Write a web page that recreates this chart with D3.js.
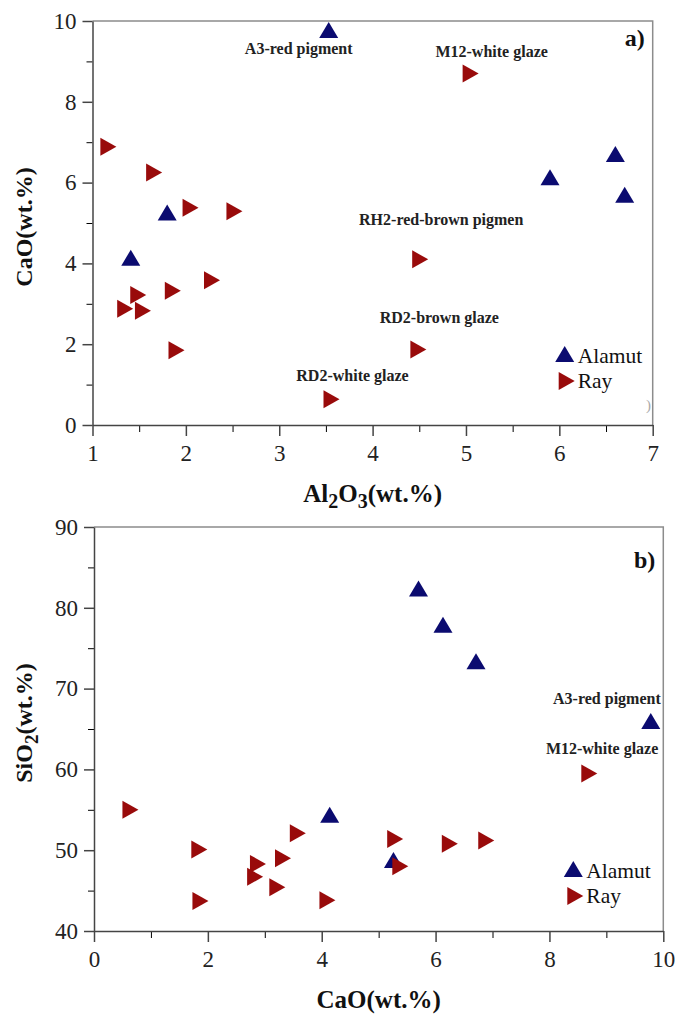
<!DOCTYPE html>
<html>
<head>
<meta charset="utf-8">
<script src="https://cdn.jsdelivr.net/npm/d3@7"></script>
<style>
  body { margin: 0; background: #fff; }
  text { font-family: "Liberation Serif", "Times New Roman", serif; }
</style>
</head>
<body>
<svg id="chart" width="678" height="1014"></svg>
<script>
// Alamut samples (blue triangles)
const alamutAl2O3 = [3.53, 1.80, 1.41, 5.90, 6.60, 6.70];
const alamutCaO   = [9.78, 5.26, 4.14, 6.13, 6.71, 5.70];
const alamutSiO2  = [66.0, 48.8, 54.4, 77.9, 73.4, 82.4];

// Ray samples (red right-pointing triangles)
const rayAl2O3 = [1.17, 1.66, 2.05, 2.52, 5.05, 2.28, 1.86, 1.49, 1.35, 1.54, 1.90, 3.56, 4.51, 4.49];
const rayCaO   = [6.89, 6.25, 5.38, 5.29, 8.70, 3.58, 3.32, 3.22, 2.88, 2.83, 1.85, 0.64, 4.10, 1.87];
const raySiO2  = [51.2, 50.8, 48.0, 51.4, 59.5, 52.1, 49.0, 45.4, 48.3, 46.7, 50.1, 55.0, 43.8, 43.7];

// labelled samples: [series, index, text]
const labelsA = [["alamut", 0, "A3-red pigment"], ["ray", 4, "M12-white glaze"],
                 ["ray", 12, "RH2-red-brown pigmen"], ["ray", 13, "RD2-brown glaze"],
                 ["ray", 11, "RD2-white glaze"]];
const labelsB = [["alamut", 0, "A3-red pigment"], ["ray", 4, "M12-white glaze"]];

const ticksAx = [1, 2, 3, 4, 5, 6, 7], minorAx = [1.5, 2.5, 3.5, 4.5, 5.5, 6.5];
const ticksAy = [0, 2, 4, 6, 8, 10], minorAy = [1, 3, 5, 7, 9];
const ticksBx = [0, 2, 4, 6, 8, 10], minorBx = [1, 3, 5, 7, 9];
const ticksBy = [40, 50, 60, 70, 80, 90], minorBy = [45, 55, 65, 75, 85];

const BLUE = "#0b0b70", RED = "#990b0b";
const svg = d3.select("#chart");

const upTri = "M0,-8L9.5,8L-9.5,8Z";
const rightTri = "M-8,-9L8,0L-8,9Z";

function drawPanel(p) {
    const g = svg.append("g");
    const x = d3.scaleLinear().domain(p.xDomain).range([p.left, p.right]);
    const y = d3.scaleLinear().domain(p.yDomain).range([p.bottom, p.top]);

    // light frame on top and right
    g.append("path")
        .attr("d", `M${p.left},${p.top}H${p.right}V${p.bottom}`)
        .attr("fill", "none")
        .attr("stroke", "#8c8c8c")
        .attr("stroke-width", 1.5);

    // minor ticks
    g.append("g")
        .attr("transform", `translate(0,${p.bottom})`)
        .call(d3.axisBottom(x).tickValues(p.xMinor).tickSize(7).tickFormat(""))
        .call(s => s.select(".domain").remove());
    g.append("g")
        .attr("transform", `translate(${p.left},0)`)
        .call(d3.axisLeft(y).tickValues(p.yMinor).tickSize(6).tickFormat(""))
        .call(s => s.select(".domain").remove());

    const xAxis = g.append("g")
        .attr("transform", `translate(0,${p.bottom})`)
        .call(d3.axisBottom(x).tickValues(p.xTicks).tickFormat(d3.format("d"))
            .tickSize(11).tickPadding(9).tickSizeOuter(0));
    const yAxis = g.append("g")
        .attr("transform", `translate(${p.left},0)`)
        .call(d3.axisLeft(y).tickValues(p.yTicks).tickFormat(d3.format("d"))
            .tickSize(10).tickPadding(6).tickSizeOuter(0));

    [xAxis, yAxis].forEach(a => {
        a.attr("font-family", null);
        a.selectAll(".domain, line").attr("stroke", "#444").attr("stroke-width", 1.5);
        a.selectAll("text")
            .style("font-family", '"Liberation Serif", serif')
            .style("font-size", "23px")
            .attr("fill", "#222");
    });

    // data (Ray drawn over Alamut where they overlap)
    g.append("g").selectAll("path")
        .data(p.alamut)
        .join("path")
        .attr("d", upTri)
        .attr("fill", BLUE)
        .attr("transform", d => `translate(${x(d[0])},${y(d[1])})`);
    g.append("g").selectAll("path")
        .data(p.ray)
        .join("path")
        .attr("d", rightTri)
        .attr("fill", RED)
        .attr("transform", d => `translate(${x(d[0])},${y(d[1])})`);

    // sample labels
    g.append("g").selectAll("text")
        .data(p.labels)
        .join("text")
        .attr("x", d => x(p[d.series][d.index][0]) + d.dx)
        .attr("y", d => y(p[d.series][d.index][1]) + d.dy)
        .attr("text-anchor", d => d.anchor)
        .style("font-size", "16px")
        .style("font-weight", "bold")
        .attr("fill", "#222")
        .text(d => d.text);

    // panel letter
    g.append("text")
        .attr("x", p.right - 8)
        .attr("y", p.top + p.letterDy)
        .attr("text-anchor", "end")
        .style("font-size", "24px")
        .style("font-weight", "bold")
        .attr("fill", "#111")
        .text(p.letter);

    // legend
    const lg = g.append("g").attr("transform", `translate(${p.right + p.legendDx},${p.bottom + p.legendDy})`);
    lg.append("path").attr("d", upTri).attr("fill", BLUE).attr("transform", "translate(0,0)");
    lg.append("path").attr("d", rightTri).attr("fill", RED).attr("transform", "translate(2,27)");
    lg.append("text").attr("x", 13).attr("y", 9).style("font-size", "21.5px").attr("fill", "#111").text("Alamut");
    lg.append("text").attr("x", 13).attr("y", 34).style("font-size", "21.5px").attr("fill", "#111").text("Ray");

    // axis titles
    const xt = g.append("text")
        .attr("x", (p.left + p.right) / 2)
        .attr("y", p.bottom + p.xTitleDy)
        .attr("text-anchor", "middle")
        .style("font-size", "25px")
        .style("font-weight", "bold")
        .attr("fill", "#111");
    p.xTitle.forEach(part => xt.append("tspan")
        .attr("dy", part[1]).style("font-size", part[1] > 0 ? "20px" : null).text(part[0]));

    const yt = g.append("text")
        .attr("transform", `translate(${p.yTitleX},${(p.top + p.bottom) / 2 + p.yTitleShift}) rotate(-90)`)
        .attr("text-anchor", "middle")
        .style("font-size", "24px")
        .style("font-weight", "bold")
        .attr("fill", "#111");
    p.yTitle.forEach(part => yt.append("tspan")
        .attr("dy", part[1]).style("font-size", part[1] > 0 ? "19px" : null).text(part[0]));

    return { x, y, g };
}

function pairs(a, b) { return a.map((v, i) => [v, b[i]]); }
function labelRows(rows, offsets) {
    return rows.map((r, i) => ({ series: r[0], index: r[1], text: r[2],
        dx: offsets[i][0], dy: offsets[i][1], anchor: offsets[i][2] }));
}

const panelA = drawPanel({
    left: 92.5, right: 652.7, top: 21, bottom: 425,
    xDomain: [1, 7], yDomain: [0, 10],
    xTicks: ticksAx, xMinor: minorAx, yTicks: ticksAy, yMinor: minorAy,
    alamut: pairs(alamutAl2O3, alamutCaO),
    ray: pairs(rayAl2O3, rayCaO),
    labels: labelRows(labelsA, [[-30, 24, "middle"], [21, -17, "middle"], [21, -34, "middle"],
                                [21, -26, "middle"], [21, -18, "middle"]]),
    letter: "a)", letterDy: 25,
    legendDx: -88, legendDy: -71,
    xTitle: [["Al", 0], ["2", 6], ["O", -6], ["3", 6], ["(wt.%)", -6]], xTitleDy: 77,
    yTitle: [["CaO(wt.%)", 0]], yTitleX: 32, yTitleShift: 4
});

// stray glyph near the lower right corner of panel a
panelA.g.append("text")
    .attr("x", 646).attr("y", 410)
    .style("font-size", "15px").attr("fill", "#aaa").text(")");

const panelB = drawPanel({
    left: 94, right: 663.3, top: 527, bottom: 931,
    xDomain: [0, 10], yDomain: [40, 90],
    xTicks: ticksBx, xMinor: minorBx, yTicks: ticksBy, yMinor: minorBy,
    alamut: pairs(alamutCaO, alamutSiO2),
    ray: pairs(rayCaO, raySiO2),
    labels: labelRows(labelsB, [[10, -17, "end"], [69, -19, "end"]]),
    letter: "b)", letterDy: 41,
    legendDx: -90, legendDy: -62,
    xTitle: [["CaO(wt.%)", 0]], xTitleDy: 77,
    yTitle: [["SiO", 0], ["2", 6], ["(wt.%)", -6]], yTitleX: 32, yTitleShift: -6
});
</script>
</body>
</html>
